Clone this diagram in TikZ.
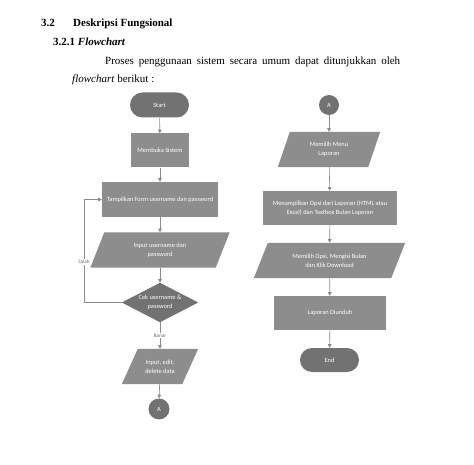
\documentclass[tikz,border=0pt]{standalone}
\usepackage{fontspec}
\setmainfont{Liberation Serif}
\newfontfamily\nodefont{Carlito}
\usetikzlibrary{arrows.meta,shapes.misc,backgrounds}
\definecolor{darkbox}{HTML}{727272}
\definecolor{midbox}{HTML}{8D8D8D}
\definecolor{linegray}{HTML}{8A8A8A}
\definecolor{labgray}{HTML}{6A6A6A}
\begin{document}
\begin{tikzpicture}[x=1pt,y=-1pt,
  base/.style={inner sep=0pt, align=center, text=white, font=\nodefont\fontsize{6.4}{8.8}\selectfont},
  termbox/.style={base, rounded rectangle, fill=darkbox, minimum width=59pt, minimum height=25pt},
  procbox/.style={base, rectangle, fill=midbox, minimum width=#1, minimum height=34pt},
  paranode/.style={base, rectangle, minimum width=#1, minimum height=35pt},
  decnode/.style={base, rectangle, minimum width=76pt, minimum height=39pt},
  connbox/.style={base, circle, fill=darkbox, minimum size=21pt},
  arr/.style={draw=linegray, line width=0.6pt, -{Triangle[width=3.6pt,length=3.6pt]}},
  lab/.style={fill=white, inner sep=0.8pt, text=labgray, font=\nodefont\fontsize{5.2}{6}\selectfont},
  heading/.style={anchor=base west, inner sep=0pt, font=\fontsize{11}{13}\selectfont}
]
\useasboundingbox (0,0) rectangle (474,465);

% heading text
\node[heading, font=\fontsize{11}{13}\selectfont\bfseries] (h1) at (41,27) {3.2};
\node[heading, font=\fontsize{11}{13}\selectfont\bfseries] (h2) at (73,27) {Deskripsi Fungsional};
\node[heading, font=\fontsize{11}{13}\selectfont\bfseries] (h3) at (53,46) {3.2.1 \textit{Flowchart}};
\node[heading] (p1) at (105,65) {\makebox[295pt][s]{Proses penggunaan sistem secara umum dapat ditunjukkan oleh}};
\node[heading] (p2) at (72,83) {\textit{flowchart} berikut :};

% left column
\node[termbox] (start) at (159.5,105) {Start};
\node[procbox=58pt] (buka) at (160,150.5) {Membuka Sistem};
\node[procbox=116pt, minimum height=35pt] (form) at (160,199.5) {Tampilkan Form username dan password};
\node[paranode=125pt] (inp) at (160,250) {Input username dan\\password};
\node[decnode] (cek) at (160,302.5) {Cek username \&\\password};
\node[paranode=60pt] (edit) at (160,366.5) {Input, edit,\\delete data};
\node[connbox] (a1) at (159,409) {A};

% right column
\node[connbox, minimum size=20pt] (a2) at (329,105) {A};
\node[paranode=90pt] (menu) at (329,149.5) {Memilih Menu\\Laporan};
\node[procbox=134pt] (tampil) at (330,208) {Menampilkan Opsi dari Laporan (HTML atau\\Excel) dan Textbox Bulan Laporan};
\node[paranode=137pt] (opsi) at (329.5,260.5) {Memilih Opsi, Mengisi Bulan\\dan Klik Download};
\node[procbox=112pt] (unduh) at (330,313) {Laporan Diunduh};
\node[termbox, minimum height=24pt] (end) at (329.5,360) {End};

% shapes behind nodes
\begin{scope}[on background layer]
  \fill[midbox] ([xshift=7pt]inp.north west) -- ([xshift=7pt]inp.north east) -- ([xshift=-7pt]inp.south east) -- ([xshift=-7pt]inp.south west) -- cycle;
  \fill[midbox] ([xshift=8pt]edit.north west) -- ([xshift=8pt]edit.north east) -- ([xshift=-8pt]edit.south east) -- ([xshift=-8pt]edit.south west) -- cycle;
  \fill[midbox] ([xshift=6pt]menu.north west) -- ([xshift=6pt]menu.north east) -- ([xshift=-6pt]menu.south east) -- ([xshift=-6pt]menu.south west) -- cycle;
  \fill[midbox] ([xshift=7pt]opsi.north west) -- ([xshift=7pt]opsi.north east) -- ([xshift=-7pt]opsi.south east) -- ([xshift=-7pt]opsi.south west) -- cycle;
  \fill[darkbox] (cek.north) -- (cek.east) -- (cek.south) -- (cek.west) -- cycle;
\end{scope}

% connectors left
\draw[arr] (start) -- (buka);
\draw[arr] (buka) -- (form);
\draw[arr] (form) -- (inp);
\draw[arr] (inp) -- (cek);
\coordinate (lp1) at (84,302.5);
\coordinate (lp2) at (84,199.5);
\draw[arr] (cek.west) -- (lp1) -- (lp2) -- (form.west);
\node[lab] (salah) at (84,262) {Salah};
\draw[arr] (cek.south) -- (edit.north);
\node[lab] (benar) at (160,335.5) {Banar};
\draw[arr] (edit) -- (a1);

% connectors right
\draw[arr] (a2) -- (menu);
\draw[arr] (menu) -- (tampil);
\draw[arr] (tampil) -- (opsi);
\draw[arr] (opsi) -- (unduh);
\draw[arr] (unduh) -- (end);
\end{tikzpicture}
\end{document}
